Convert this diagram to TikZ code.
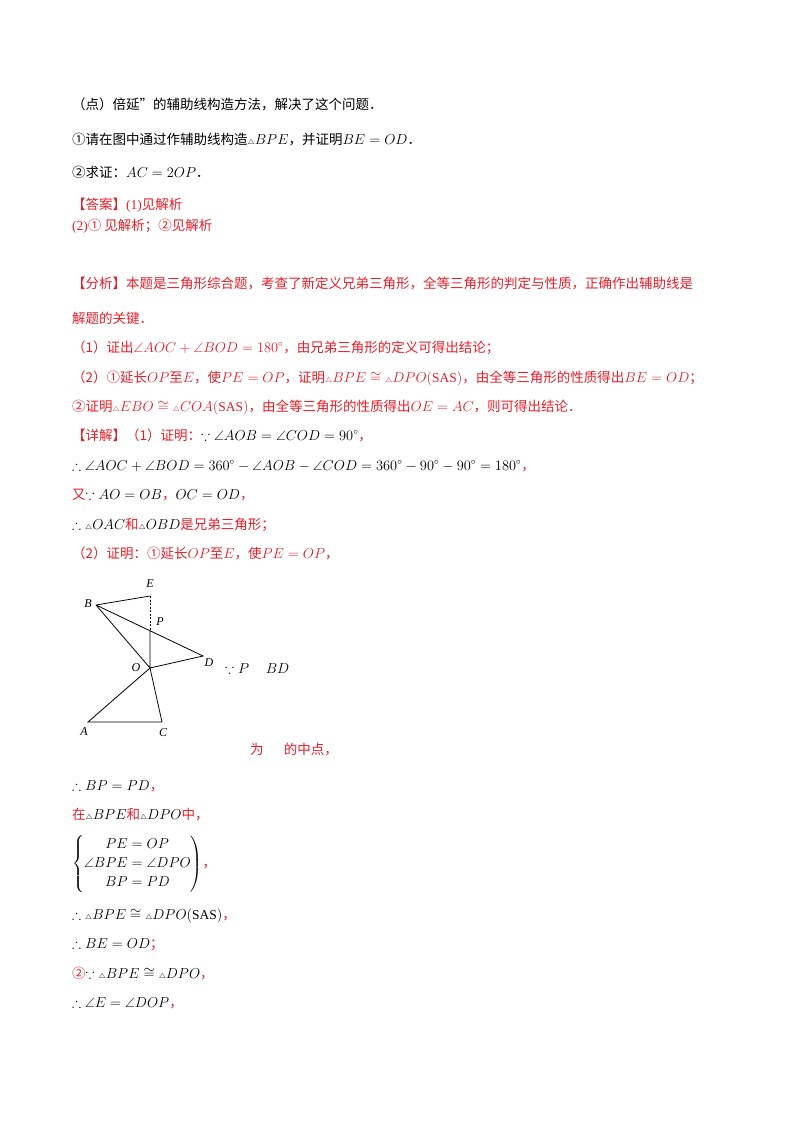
\documentclass[tikz,border=0pt]{standalone}
\usepackage{amsmath,amssymb}
\usepackage{fontspec}
\setmainfont{Liberation Serif}
\newfontfamily\cjk{Noto Sans CJK SC}
\definecolor{rd}{RGB}{230,30,40}
\newcommand{\tri}{{\scriptscriptstyle\triangle}}
\begin{document}
\begin{tikzpicture}[x=1pt,y=-1pt,
  t/.style={anchor=base west,inner sep=0pt,font=\fontsize{13.5}{16}\selectfont\cjk},
  lb/.style={inner sep=0pt,font=\fontsize{12}{14}\selectfont\itshape}]
\useasboundingbox (0,0) rectangle (800,1132);
\node[t] (l1) at (72,109) {（点）倍延”的辅助线构造方法，解决了这个问题．};
\node[t] (l2) at (72,144) {①请在图中通过作辅助线构造$\tri BPE$，并证明$BE=OD$．};
\node[t] (l3) at (72,177) {②求证：$AC=2OP$．};
\node[t,text=rd] (l4) at (72,209) {【答案】\rmfamily(1)\cjk 见解析};
\node[t,text=rd] (l5) at (72,230) {\rmfamily(2)\cjk① 见解析；②见解析};
\node[t,text=rd] (l6) at (72,288) {【分析】本题是三角形综合题，考查了新定义兄弟三角形，全等三角形的判定与性质，正确作出辅助线是};
\node[t,text=rd] (l7) at (72,323) {解题的关键．};
\node[t,text=rd] (l8) at (72,352) {（1）证出$\angle AOC+\angle BOD=180^\circ$，由兄弟三角形的定义可得出结论；};
\node[t,text=rd] (l9) at (72,382) {（2）①延长$OP$至$E$，使$PE=OP$，证明$\tri BPE\cong\tri DPO(\mathrm{SAS})$，由全等三角形的性质得出$BE=OD$；};
\node[t,text=rd] (l10) at (72,411) {②证明$\tri EBO\cong\tri COA(\mathrm{SAS})$，由全等三角形的性质得出$OE=AC$，则可得出结论．};
\node[t] (l11) at (72,440) {\textcolor{rd}{【详解】（1）证明：}$\because\angle AOB=\angle COD=90^\circ$\textcolor{rd}{，}};
\node[t] (l12) at (72,470) {$\therefore\angle AOC+\angle BOD=360^\circ-\angle AOB-\angle COD=360^\circ-90^\circ-90^\circ=180^\circ$\textcolor{rd}{，}};
\node[t] (l13) at (72,499) {\textcolor{rd}{又}$\because AO=OB$\textcolor{rd}{，}$OC=OD$\textcolor{rd}{，}};
\node[t] (l14) at (72,529) {$\therefore\tri OAC$\textcolor{rd}{和}$\tri OBD$\textcolor{rd}{是兄弟三角形；}};
\node[t,text=rd] (l15) at (72,558) {（2）证明：①延长$OP$至$E$，使$PE=OP$，};
% figure
\coordinate (B) at (96,605);
\coordinate (E) at (150,596);
\coordinate (P) at (150,631);
\coordinate (D) at (203,656);
\coordinate (O) at (150,668);
\coordinate (A) at (88,722);
\coordinate (C) at (162,722);
\draw[line width=0.8pt] (B)--(E) (B)--(D)--(O)--(B) (P)--(O)--(A)--(C)--(O);
\draw[line width=0.8pt,dashed,dash pattern=on 2pt off 1.5pt] (E)--(P);
\node[lb] (nE) at (150,584) {E};
\node[lb] (nB) at (88,604) {B};
\node[lb] (nP) at (160,622) {P};
\node[lb] (nD) at (209,663) {D};
\node[lb] (nO) at (136,668) {O};
\node[lb] (nA) at (84,732) {A};
\node[lb] (nC) at (163,733) {C};
\node[t] (l16) at (225,673) {$\because P\quad\ BD$};
\node[t,text=rd] (l17) at (250,754) {为\hspace{1.5em}的中点，};
\node[t] (l18) at (72,790) {$\therefore BP=PD$\textcolor{rd}{，}};
\node[t] (l19) at (72,819) {\textcolor{rd}{在}$\tri BPE$\textcolor{rd}{和}$\tri DPO$\textcolor{rd}{中，}};
\node[t,anchor=west] (l20) at (72,864) {$\left\{\begin{aligned}PE&=OP\\\angle BPE&=\angle DPO\\BP&=PD\end{aligned}\right)$\textcolor{rd}{，}};
\node[t] (l21) at (72,919) {$\therefore\tri BPE\cong\tri DPO(\mathrm{SAS})$\textcolor{rd}{，}};
\node[t] (l22) at (72,948) {$\therefore BE=OD$\textcolor{rd}{；}};
\node[t] (l23) at (72,978) {\textcolor{rd}{②}$\because\tri BPE\cong\tri DPO$\textcolor{rd}{，}};
\node[t] (l24) at (72,1007) {$\therefore\angle E=\angle DOP$\textcolor{rd}{，}};
\end{tikzpicture}
\end{document}
